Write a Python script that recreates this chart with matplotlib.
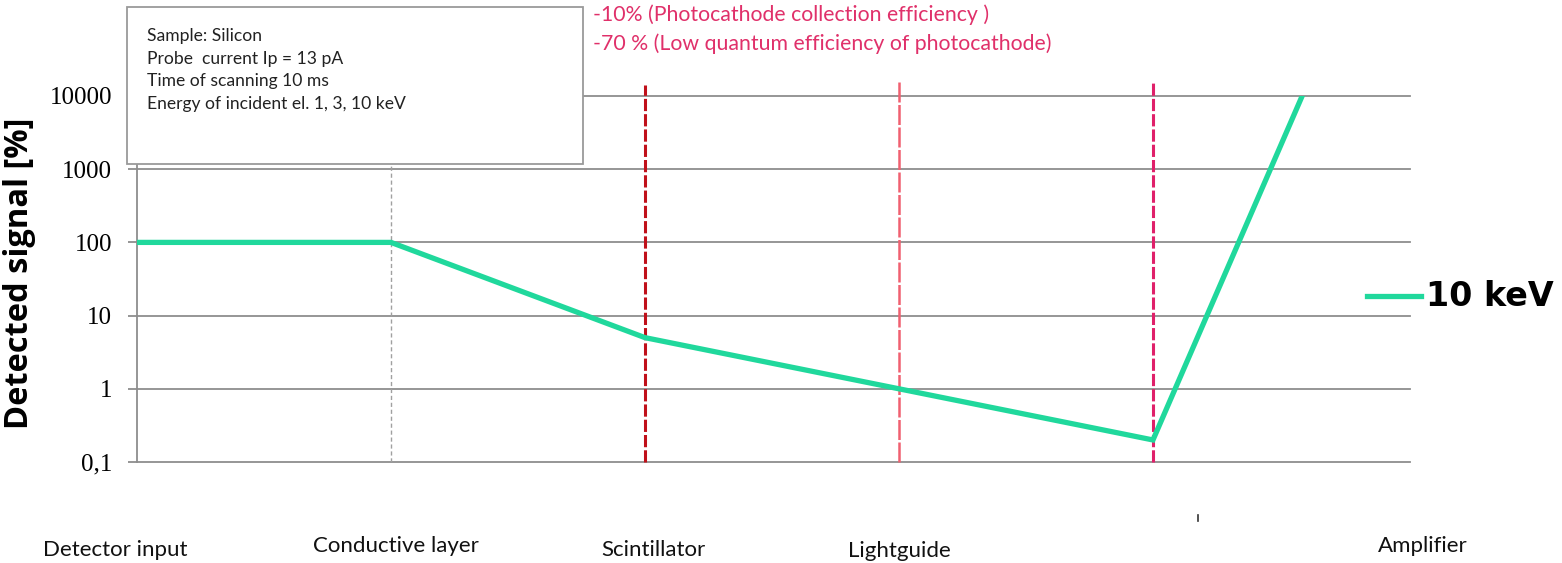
import matplotlib
matplotlib.use("Agg")
import matplotlib.pyplot as plt
from matplotlib.patches import Rectangle
from matplotlib.ticker import FixedLocator, NullLocator

# Signal chain stages and detected signal (percent of the input signal)
stages = ["Detector input", "Conductive layer", "Scintillator", "Lightguide", "", "Amplifier"]
signal_10kev = [100, 100, 5, 1, 0.2, 2e7]
series_label = "10 keV"

y_ticks = [0.1, 1, 10, 100, 1000, 10000]
y_tick_labels = ["0,1", "1", "10", "100", "1000", "10000"]

info_lines = [
    "Sample: Silicon",
    "Probe  current Ip = 13 pA",
    "Time of scanning 10 ms",
    "Energy of incident el. 1, 3, 10 keV",
]
loss_notes = [
    "-10% (Photocathode collection efficiency )",
    "-70 % (Low quantum efficiency of photocathode)",
]

W, H = 1562, 563
fig = plt.figure(figsize=(W / 100, H / 100), dpi=100)
fig.patch.set_facecolor("white")

def fx(px):
    return px / W

def fy(py):
    return 1 - py / H

ax = fig.add_axes([fx(137), fy(462), fx(1410) - fx(137), fy(96) - fy(462)])
ax.set_facecolor("white")

x = list(range(len(stages)))
ax.set_yscale("log")
ax.set_ylim(0.1, 10000)
ax.set_xlim(0, 5.012)

grid_color = "#8e8e8e"
for v in y_ticks:
    ax.axhline(v, color=grid_color, lw=1.3, zorder=1, clip_on=False)

# stage boundaries
ax.axvline(1, color="#a0a0a0", lw=1.0, ls=(0, (3, 2)), zorder=2)
ax.plot([2, 2], [0.1, 14000], color="#c0101a", lw=2.2, ls=(0, (4, 1.0)),
        zorder=2, clip_on=False)
ax.plot([3, 3], [0.1, 16000], color="#f06070", lw=1.8, ls=(0, (8, 1)),
        zorder=2, clip_on=False)
ax.plot([4, 4], [0.1, 15000], color="#e0206a", lw=2.2, ls=(0, (4, 1.0)),
        zorder=2, clip_on=False)

line, = ax.plot(x, signal_10kev, color="#20d89c", lw=3.8, zorder=3,
                solid_capstyle="butt", solid_joinstyle="miter")

for side in ["top", "right", "bottom"]:
    ax.spines[side].set_visible(False)
ax.spines["left"].set_color(grid_color)
ax.spines["left"].set_linewidth(1.3)

ax.yaxis.set_major_locator(FixedLocator(y_ticks))
ax.yaxis.set_minor_locator(NullLocator())
ax.set_yticklabels(y_tick_labels, family="Liberation Serif", fontsize=18)
ax.tick_params(axis="y", length=6.5, width=1.3, color=grid_color, pad=11.5)
ax.set_xticks([])

fig.text(fx(20), fy(273), "Detected signal [%]", rotation=90, ha="center",
         va="center", fontsize=23.5, fontweight="bold", family="Open Sans")

# stage names under the axis
label_pos = [(115, 550), (396, 546), (653, 550), (899, 551), (1153, 548), (1423, 546)]
for name, (px, py) in zip(stages, label_pos):
    if name:
        fig.text(fx(px), fy(py), name, ha="center", va="center", fontsize=16,
                 family="Lato", color="#111111")
fig.add_artist(plt.Line2D([fx(1198), fx(1198)], [fy(515), fy(521)],
                          color="#333333", lw=1.2, transform=fig.transFigure))

# legend
fig.add_artist(plt.Line2D([fx(1367), fx(1421)], [fy(296), fy(296)],
                          color="#20d89c", lw=3.8, transform=fig.transFigure))
fig.text(fx(1426), fy(297), series_label, ha="left", va="center", fontsize=24,
         fontweight="bold", family="DejaVu Sans")

# info box
fig.add_artist(Rectangle((fx(127), fy(164)), fx(583) - fx(127), fy(7) - fy(164),
                         transform=fig.transFigure, facecolor="white",
                         edgecolor="#9a9a9a", lw=1.3, zorder=5))
for i, t in enumerate(info_lines):
    fig.text(fx(147), fy(36 + 22.7 * i), t, ha="left", va="center", fontsize=12.6,
             family="Lato", color="#222222", zorder=6)

for i, t in enumerate(loss_notes):
    fig.text(fx(593), fy(15 + 28.5 * i), t, ha="left", va="center", fontsize=15.3,
             family="Lato", color="#e0306a")

fig.savefig("out.png", dpi=100)
